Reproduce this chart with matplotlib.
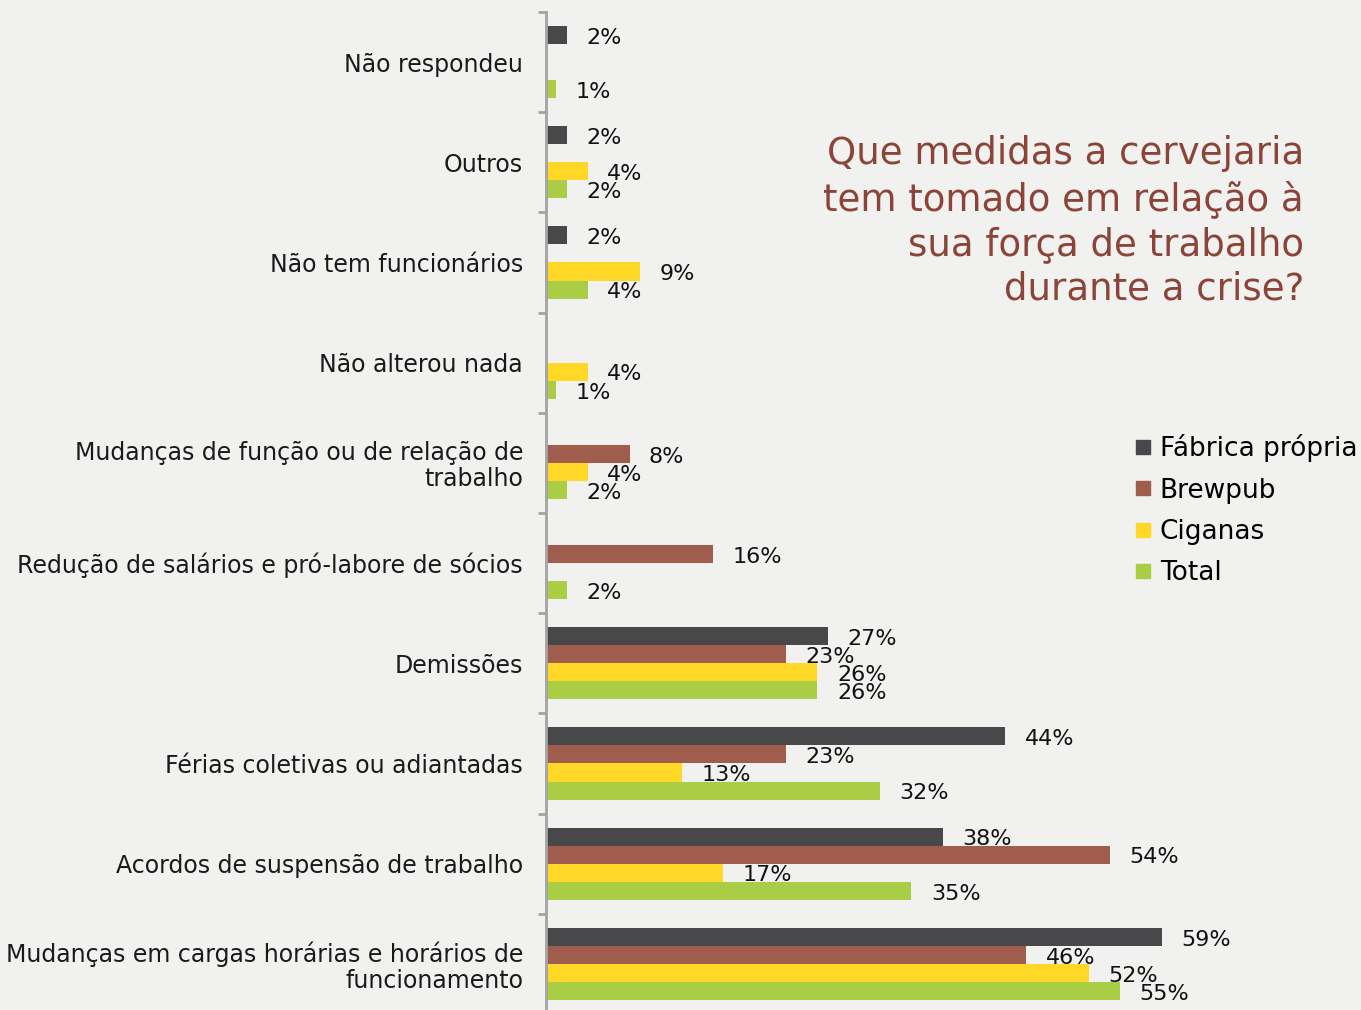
import numpy as np
import matplotlib
matplotlib.use("Agg")
import matplotlib.pyplot as plt
from matplotlib.lines import Line2D

categories = [
    "Não respondeu",
    "Outros",
    "Não tem funcionários",
    "Não alterou nada",
    "Mudanças de função ou de relação de\ntrabalho",
    "Redução de salários e pró-labore de sócios",
    "Demissões",
    "Férias coletivas ou adiantadas",
    "Acordos de suspensão de trabalho",
    "Mudanças em cargas horárias e horários de\nfuncionamento",
]
series_names = ["Fábrica própria", "Brewpub", "Ciganas", "Total"]
fabrica = [2, 2, 2, 0, 0, 0, 27, 44, 38, 59]
brewpub = [0, 0, 0, 0, 8, 16, 23, 23, 54, 46]
ciganas = [0, 4, 9, 4, 4, 0, 26, 13, 17, 52]
total = [1, 2, 4, 1, 2, 2, 26, 32, 35, 55]
series_values = [fabrica, brewpub, ciganas, total]
colors = ["#48484a", "#a05c4c", "#ffd726", "#a9cd45"]

title = "Que medidas a cervejaria\ntem tomado em relação à\nsua força de trabalho\ndurante a crise?"

plt.rcParams["font.family"] = ["DejaVu Sans"]

W, H = 1361, 1010
fig = plt.figure(figsize=(W / 100, H / 100), dpi=100)
bg = "#f1f1f0"
fig.patch.set_facecolor(bg)

left_px, top_px, bottom_px = 546, 12, 1014
ax = fig.add_axes([left_px / W, 1 - bottom_px / H, 1 - left_px / W, (bottom_px - top_px) / H])
ax.set_facecolor("none")

px_per_unit = 10.44
ax.set_xlim(0, (W - left_px) / px_per_unit)
ax.set_ylim(len(categories) - 0.5, -0.5)

bar_h = 0.18
offsets = [-0.27, -0.09, 0.09, 0.27]
ypos = np.arange(len(categories))
for vals, off, col, name in zip(series_values, offsets, colors, series_names):
    bars = ax.barh(ypos + off, vals, height=bar_h, color=col, label=name, zorder=2)
    for rect, v in zip(bars, vals):
        if v > 0:
            ax.annotate(f"{v}%", (rect.get_width(), rect.get_y() + rect.get_height() / 2),
                        xytext=(14, -2), textcoords="offset points",
                        ha="left", va="center", fontsize=16, color="#111111")

for s in ["top", "right", "bottom"]:
    ax.spines[s].set_visible(False)
ax.spines["left"].set_color("#a3a3a3")
ax.spines["left"].set_linewidth(2)
ax.set_xticks([])

ax.set_yticks(ypos)
ax.set_yticklabels(categories, fontsize=17, color="#1a1a1a", linespacing=1.1)
ax.tick_params(axis="y", which="major", length=0, pad=16.5)
ax.set_yticks(np.arange(-0.5, len(categories)), minor=True)
ax.tick_params(axis="y", which="minor", length=6, width=2, color="#a3a3a3", direction="out")

fig.text(1304 / W, 1 - 135 / H, title, ha="right", va="top", fontsize=26.7,
         color="#8c4438", linespacing=1.27)

handles = [Line2D([], [], marker="s", linestyle="none", markersize=10.5,
                  markerfacecolor=c, markeredgecolor=c) for c in colors]
fig.legend(handles, series_names, loc="upper left", bbox_to_anchor=(1128 / W, 1 - 429 / H),
           frameon=False, fontsize=19, handlelength=0.7, handletextpad=0.3,
           labelspacing=0.58, borderaxespad=0, borderpad=0.2)

fig.savefig("out.png", dpi=100, facecolor=fig.get_facecolor())
